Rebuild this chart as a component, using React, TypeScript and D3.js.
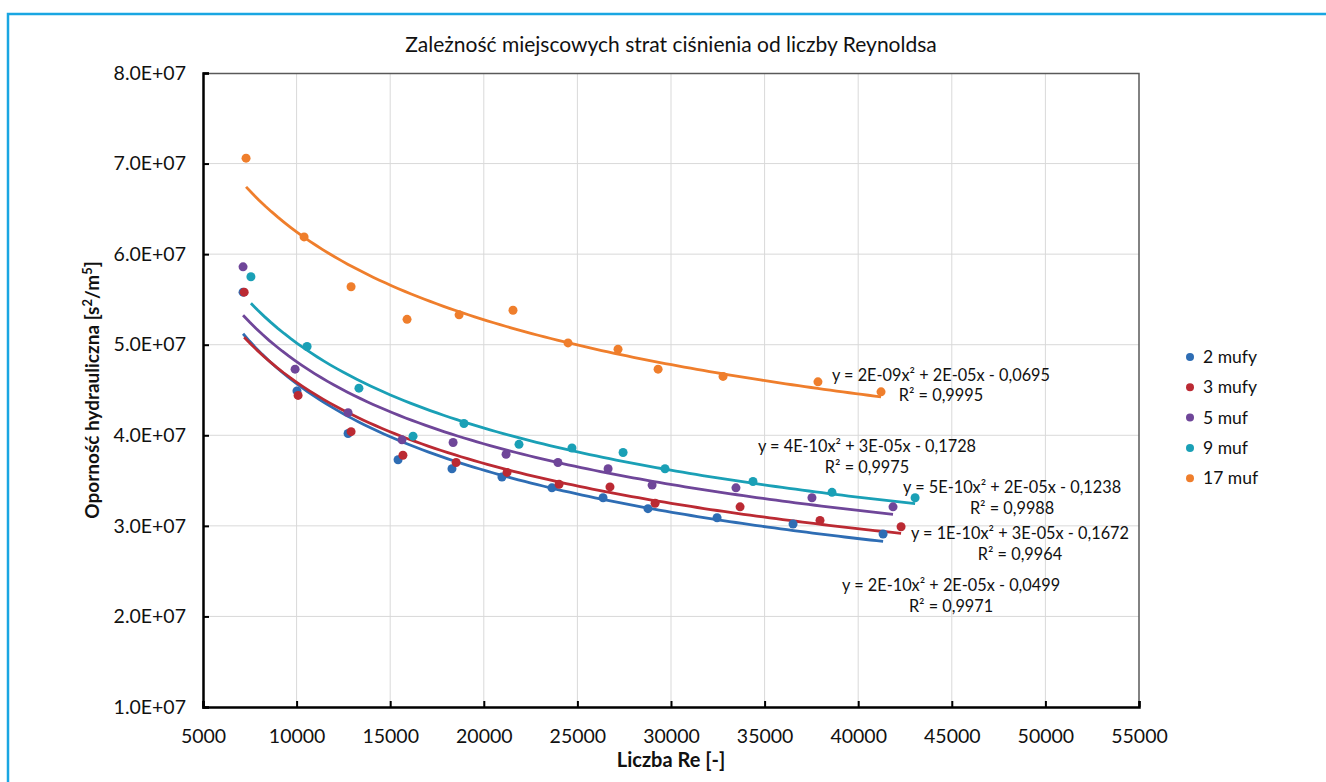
import React, { useEffect, useRef } from 'react';
import * as d3 from 'd3';

const TITLE = 'Zależność miejscowych strat ciśnienia od liczby Reynoldsa';
const X_TITLE = 'Liczba Re [-]';

const SERIES_NAMES = ['2 mufy', '3 mufy', '5 muf', '9 muf', '17 muf'];
const COLORS = ['#2e6db4', '#bb2a33', '#6f4699', '#1aa0b6', '#ef7e2c'];

// Re values and hydraulic resistance
const re2 = [7140, 10020, 12750, 15420, 18300, 20970, 23640, 26370, 28770, 32460, 36520, 41330];
const op2 = [5.58e7, 4.49e7, 4.02e7, 3.73e7, 3.63e7, 3.54e7, 3.42e7, 3.31e7, 3.19e7, 3.09e7, 3.02e7, 2.91e7];

const re3 = [7200, 10080, 12910, 15680, 18520, 21240, 24020, 26740, 29150, 33690, 37960, 42290];
const op3 = [5.58e7, 4.44e7, 4.04e7, 3.78e7, 3.70e7, 3.59e7, 3.46e7, 3.43e7, 3.25e7, 3.21e7, 3.06e7, 2.99e7];

const re5 = [7140, 9920, 12750, 15630, 18360, 21190, 23960, 26640, 28990, 33470, 37530, 41860];
const op5 = [5.86e7, 4.73e7, 4.25e7, 3.95e7, 3.92e7, 3.79e7, 3.70e7, 3.63e7, 3.45e7, 3.42e7, 3.31e7, 3.21e7];

const re9 = [7560, 10560, 13330, 16220, 18940, 21880, 24710, 27440, 29680, 34380, 38600, 43040];
const op9 = [5.75e7, 4.98e7, 4.52e7, 3.99e7, 4.13e7, 3.90e7, 3.86e7, 3.81e7, 3.63e7, 3.49e7, 3.37e7, 3.31e7];

const re17 = [7300, 10400, 12910, 15900, 18680, 21560, 24500, 27170, 29310, 32780, 37850, 41220];
const op17 = [7.06e7, 6.19e7, 5.64e7, 5.28e7, 5.33e7, 5.38e7, 5.02e7, 4.95e7, 4.73e7, 4.65e7, 4.59e7, 4.48e7];

const X_TICKS = [5000, 10000, 15000, 20000, 25000, 30000, 35000, 40000, 45000, 50000, 55000];
const Y_TICKS = [1e7, 2e7, 3e7, 4e7, 5e7, 6e7, 7e7, 8e7];

const EQUATIONS = [
  'y = 2E-09x² + 2E-05x - 0,0695',
  'y = 4E-10x² + 3E-05x - 0,1728',
  'y = 5E-10x² + 2E-05x - 0,1238',
  'y = 1E-10x² + 3E-05x - 0,1672',
  'y = 2E-10x² + 2E-05x - 0,0499',
];
const R2 = ['R² = 0,9995', 'R² = 0,9975', 'R² = 0,9988', 'R² = 0,9964', 'R² = 0,9971'];
// label anchors in data units (centre of text, baseline of the equation line)
const EQ_RE = [44420, 40470, 48220, 48640, 44960];
const EQ_OP = [4.6e7, 3.815e7, 3.362e7, 2.854e7, 2.28e7];

const FONT = 'Lato, "Open Sans", sans-serif';
const INK = '#111';

// power-law trendline, least squares in log-log space
function powerFit(xs: number[], ys: number[]) {
  const lx = xs.map(Math.log);
  const ly = ys.map(Math.log);
  const mx = d3.mean(lx) as number;
  const my = d3.mean(ly) as number;
  let num = 0;
  let den = 0;
  lx.forEach((v, i) => {
    num += (v - mx) * (ly[i] - my);
    den += (v - mx) * (v - mx);
  });
  const b = num / den;
  const a = Math.exp(my - b * mx);
  return (x: number) => a * Math.pow(x, b);
}

export default function App() {
  const svgRef = useRef<SVGSVGElement | null>(null);

  useEffect(() => {
    if (!svgRef.current) return;
    const width = 1326;
    const height = 782;
    const margin = { top: 73, right: 187, bottom: 75, left: 203 };
    const innerW = width - margin.left - margin.right;
    const innerH = height - margin.top - margin.bottom;

    const svg = d3.select(svgRef.current);
    svg.selectAll('*').remove();
    svg.attr('width', width).attr('height', height);

    svg.append('rect').attr('width', width).attr('height', height).attr('fill', '#fff');

    // blue frame around the figure
    svg.append('rect')
      .attr('x', 8).attr('y', 14)
      .attr('width', 1400).attr('height', 900)
      .attr('fill', 'none')
      .attr('stroke', '#19a6e2')
      .attr('stroke-width', 2.5);

    const g = svg.append('g').attr('transform', `translate(${margin.left},${margin.top})`);

    const x = d3.scaleLinear().domain([5000, 55000]).range([0, innerW]);
    const y = d3.scaleLinear().domain([1e7, 8e7]).range([innerH, 0]);

    // grid
    g.append('g')
      .selectAll('line')
      .data(X_TICKS.slice(1, -1))
      .join('line')
      .attr('x1', d => x(d)).attr('x2', d => x(d))
      .attr('y1', 0).attr('y2', innerH)
      .attr('stroke', '#d9d9d9');
    g.append('g')
      .selectAll('line')
      .data(Y_TICKS.slice(1, -1))
      .join('line')
      .attr('y1', d => y(d)).attr('y2', d => y(d))
      .attr('x1', 0).attr('x2', innerW)
      .attr('stroke', '#d9d9d9');

    // top and right frame
    g.append('path')
      .attr('d', `M0,0.5H${innerW}V${innerH}`)
      .attr('fill', 'none')
      .attr('stroke', '#595959')
      .attr('stroke-width', 1.5);

    // axes (ticks pointing inwards)
    const xAxis = g.append('g')
      .attr('transform', `translate(0,${innerH})`)
      .call(d3.axisBottom(x).tickValues(X_TICKS).tickSize(-6).tickPadding(22).tickFormat(d3.format('d')));
    const yAxis = g.append('g')
      .call(d3.axisLeft(y).tickValues(Y_TICKS).tickSize(-6).tickPadding(17)
        .tickFormat(d => (d as number / 1e7).toFixed(1) + 'E+07'));
    [xAxis, yAxis].forEach(ax => {
      ax.select('.domain').attr('stroke', '#000').attr('stroke-width', 2.5);
      ax.selectAll('.tick line').attr('stroke', '#000').attr('stroke-width', 2);
      ax.selectAll('.tick text')
        .attr('fill', INK)
        .attr('font-family', FONT)
        .attr('font-size', '19.5px');
    });

    const xs = [re2, re3, re5, re9, re17];
    const ys = [op2, op3, op5, op9, op17];

    const line = d3.line<[number, number]>().x(d => x(d[0])).y(d => y(d[1]));

    xs.forEach((rx, si) => {
      const f = powerFit(rx, ys[si]);
      const [lo, hi] = d3.extent(rx) as [number, number];
      const pts: [number, number][] = d3.range(0, 101).map(i => {
        const v = lo + (hi - lo) * i / 100;
        return [v, f(v)];
      });
      g.append('path')
        .attr('d', line(pts))
        .attr('fill', 'none')
        .attr('stroke', COLORS[si])
        .attr('stroke-width', 2.8);
    });

    xs.forEach((rx, si) => {
      g.append('g')
        .selectAll('circle')
        .data(rx.map((v, i) => [v, ys[si][i]]))
        .join('circle')
        .attr('cx', d => x(d[0]))
        .attr('cy', d => y(d[1]))
        .attr('r', 4.5)
        .attr('fill', COLORS[si]);
    });

    // trendline equations
    EQUATIONS.forEach((eq, i) => {
      const t = g.append('text')
        .attr('x', x(EQ_RE[i]))
        .attr('y', y(EQ_OP[i]))
        .attr('text-anchor', 'middle')
        .attr('font-family', FONT)
        .attr('font-size', '16.3px')
        .attr('fill', INK);
      t.append('tspan').text(eq);
      t.append('tspan').attr('x', x(EQ_RE[i])).attr('dy', 20.5).text(R2[i]);
    });

    // title
    svg.append('text')
      .attr('x', margin.left + innerW / 2)
      .attr('y', 52)
      .attr('text-anchor', 'middle')
      .attr('font-family', FONT)
      .attr('font-size', '21px')
      .attr('fill', INK)
      .text(TITLE);

    // x title
    svg.append('text')
      .attr('x', margin.left + innerW / 2)
      .attr('y', 767)
      .attr('text-anchor', 'middle')
      .attr('font-family', FONT)
      .attr('font-weight', 'bold')
      .attr('font-size', '20px')
      .attr('fill', INK)
      .text(X_TITLE);

    // y title
    const yt = svg.append('text')
      .attr('transform', `translate(99,${margin.top + innerH / 2}) rotate(-90)`)
      .attr('text-anchor', 'middle')
      .attr('font-family', FONT)
      .attr('font-weight', 'bold')
      .attr('font-size', '19px')
      .attr('fill', INK);
    yt.append('tspan').text('Oporność hydrauliczna [s');
    yt.append('tspan').attr('dy', -7).attr('font-size', '13px').text('2');
    yt.append('tspan').attr('dy', 7).text('/m');
    yt.append('tspan').attr('dy', -7).attr('font-size', '13px').text('5');
    yt.append('tspan').attr('dy', 7).text(']');

    // legend
    const lg = svg.append('g').attr('transform', 'translate(1190,357)');
    SERIES_NAMES.forEach((name, i) => {
      const row = lg.append('g').attr('transform', `translate(0,${i * 30.3})`);
      row.append('circle').attr('r', 4).attr('fill', COLORS[i]);
      row.append('text')
        .attr('x', 13)
        .attr('y', 6)
        .attr('font-family', FONT)
        .attr('font-size', '17.5px')
        .attr('fill', INK)
        .text(name);
    });
  }, []);

  return (
    <div style={{ position: 'absolute', left: 0, top: 0 }}>
      <svg ref={svgRef} style={{ display: 'block' }}></svg>
    </div>
  );
}
